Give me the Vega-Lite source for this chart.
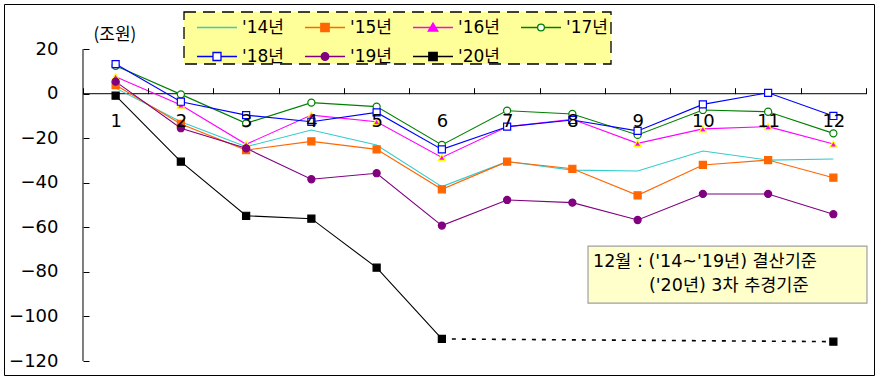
{
  "$schema": "https://vega.github.io/schema/vega-lite/v6.json",
  "width": 870,
  "height": 371,
  "autosize": {"type": "none"},
  "padding": {"left": 4, "top": 4, "right": 4, "bottom": 8},
  "background": "white",
  "config": {
    "view": {"stroke": "black", "strokeWidth": 1},
    "font": "DejaVu Sans, Noto Sans CJK KR",
    "axis": {"domain": false, "grid": false, "tickColor": "black", "labelColor": "black", "labelFont": "DejaVu Sans, Noto Sans CJK KR"}
  },
  "datasets": {
    "series": [
      {"year": "'14년", "month": "1", "value": 2.5, "basis": "실적"},
      {"year": "'14년", "month": "2", "value": -12.6, "basis": "실적"},
      {"year": "'14년", "month": "3", "value": -23.8, "basis": "실적"},
      {"year": "'14년", "month": "4", "value": -16.3, "basis": "실적"},
      {"year": "'14년", "month": "5", "value": -23.0, "basis": "실적"},
      {"year": "'14년", "month": "6", "value": -41.7, "basis": "실적"},
      {"year": "'14년", "month": "7", "value": -30.5, "basis": "실적"},
      {"year": "'14년", "month": "8", "value": -34.3, "basis": "실적"},
      {"year": "'14년", "month": "9", "value": -34.7, "basis": "실적"},
      {"year": "'14년", "month": "10", "value": -25.7, "basis": "실적"},
      {"year": "'14년", "month": "11", "value": -29.8, "basis": "실적"},
      {"year": "'14년", "month": "12", "value": -29.3, "basis": "결산"},
      {"year": "'15년", "month": "1", "value": 3.9, "basis": "실적"},
      {"year": "'15년", "month": "2", "value": -13.6, "basis": "실적"},
      {"year": "'15년", "month": "3", "value": -25.3, "basis": "실적"},
      {"year": "'15년", "month": "4", "value": -21.4, "basis": "실적"},
      {"year": "'15년", "month": "5", "value": -25.0, "basis": "실적"},
      {"year": "'15년", "month": "6", "value": -42.9, "basis": "실적"},
      {"year": "'15년", "month": "7", "value": -30.5, "basis": "실적"},
      {"year": "'15년", "month": "8", "value": -33.7, "basis": "실적"},
      {"year": "'15년", "month": "9", "value": -45.6, "basis": "실적"},
      {"year": "'15년", "month": "10", "value": -32.0, "basis": "실적"},
      {"year": "'15년", "month": "11", "value": -29.8, "basis": "실적"},
      {"year": "'15년", "month": "12", "value": -37.7, "basis": "결산"},
      {"year": "'16년", "month": "1", "value": 7.6, "basis": "실적"},
      {"year": "'16년", "month": "2", "value": -5.1, "basis": "실적"},
      {"year": "'16년", "month": "3", "value": -22.7, "basis": "실적"},
      {"year": "'16년", "month": "4", "value": -9.6, "basis": "실적"},
      {"year": "'16년", "month": "5", "value": -12.6, "basis": "실적"},
      {"year": "'16년", "month": "6", "value": -28.6, "basis": "실적"},
      {"year": "'16년", "month": "7", "value": -14.8, "basis": "실적"},
      {"year": "'16년", "month": "8", "value": -11.5, "basis": "실적"},
      {"year": "'16년", "month": "9", "value": -22.3, "basis": "실적"},
      {"year": "'16년", "month": "10", "value": -15.8, "basis": "실적"},
      {"year": "'16년", "month": "11", "value": -14.8, "basis": "실적"},
      {"year": "'16년", "month": "12", "value": -22.6, "basis": "결산"},
      {"year": "'17년", "month": "1", "value": 12.5, "basis": "실적"},
      {"year": "'17년", "month": "2", "value": -0.3, "basis": "실적"},
      {"year": "'17년", "month": "3", "value": -13.3, "basis": "실적"},
      {"year": "'17년", "month": "4", "value": -4.0, "basis": "실적"},
      {"year": "'17년", "month": "5", "value": -5.8, "basis": "실적"},
      {"year": "'17년", "month": "6", "value": -23.0, "basis": "실적"},
      {"year": "'17년", "month": "7", "value": -7.6, "basis": "실적"},
      {"year": "'17년", "month": "8", "value": -9.1, "basis": "실적"},
      {"year": "'17년", "month": "9", "value": -18.5, "basis": "실적"},
      {"year": "'17년", "month": "10", "value": -7.3, "basis": "실적"},
      {"year": "'17년", "month": "11", "value": -8.1, "basis": "실적"},
      {"year": "'17년", "month": "12", "value": -17.8, "basis": "결산"},
      {"year": "'18년", "month": "1", "value": 13.3, "basis": "실적"},
      {"year": "'18년", "month": "2", "value": -3.6, "basis": "실적"},
      {"year": "'18년", "month": "3", "value": -9.6, "basis": "실적"},
      {"year": "'18년", "month": "4", "value": -12.6, "basis": "실적"},
      {"year": "'18년", "month": "5", "value": -8.4, "basis": "실적"},
      {"year": "'18년", "month": "6", "value": -25.0, "basis": "실적"},
      {"year": "'18년", "month": "7", "value": -14.8, "basis": "실적"},
      {"year": "'18년", "month": "8", "value": -11.8, "basis": "실적"},
      {"year": "'18년", "month": "9", "value": -16.7, "basis": "실적"},
      {"year": "'18년", "month": "10", "value": -4.8, "basis": "실적"},
      {"year": "'18년", "month": "11", "value": 0.4, "basis": "실적"},
      {"year": "'18년", "month": "12", "value": -10.0, "basis": "결산"},
      {"year": "'19년", "month": "1", "value": 5.4, "basis": "실적"},
      {"year": "'19년", "month": "2", "value": -15.5, "basis": "실적"},
      {"year": "'19년", "month": "3", "value": -24.5, "basis": "실적"},
      {"year": "'19년", "month": "4", "value": -38.4, "basis": "실적"},
      {"year": "'19년", "month": "5", "value": -35.7, "basis": "실적"},
      {"year": "'19년", "month": "6", "value": -59.2, "basis": "실적"},
      {"year": "'19년", "month": "7", "value": -47.7, "basis": "실적"},
      {"year": "'19년", "month": "8", "value": -48.9, "basis": "실적"},
      {"year": "'19년", "month": "9", "value": -56.7, "basis": "실적"},
      {"year": "'19년", "month": "10", "value": -45.0, "basis": "실적"},
      {"year": "'19년", "month": "11", "value": -45.0, "basis": "실적"},
      {"year": "'19년", "month": "12", "value": -54.1, "basis": "결산"},
      {"year": "'20년", "month": "1", "value": -0.9, "basis": "실적"},
      {"year": "'20년", "month": "2", "value": -30.5, "basis": "실적"},
      {"year": "'20년", "month": "3", "value": -54.8, "basis": "실적"},
      {"year": "'20년", "month": "4", "value": -56.1, "basis": "실적"},
      {"year": "'20년", "month": "5", "value": -78.1, "basis": "실적"},
      {"year": "'20년", "month": "6", "value": -110.1, "basis": "실적"},
      {"year": "'20년", "month": "12", "value": -111.3, "basis": "3차 추경"}
    ]
  },
  "data": {"name": "series"},
  "layer": [
    {
      "data": {"values": [{"item": "legend box"}]},
      "mark": {"type": "rect", "fill": "#FFFF99", "stroke": "black", "strokeWidth": 1.3, "strokeDash": [12, 7]},
      "encoding": {
        "x": {"datum": "2", "type": "ordinal", "bandPosition": 0.548,
          "scale": {"type": "band", "domain": ["1","2","3","4","5","6","7","8","9","10","11","12"], "paddingInner": 0, "paddingOuter": 0.6667, "align": 0.908, "round": false},
          "axis": {"orient": "bottom", "offset": -281.3, "tickBand": "extent", "tickSize": -6, "labelPadding": 24.3, "labelAngle": 0, "labelFontSize": 18, "title": null}},
        "x2": {"datum": "9", "bandPosition": 0.092},
        "y": {"datum": 36.68, "type": "quantitative",
          "scale": {"domain": [-126.28, 40.27], "nice": false, "zero": false},
          "axis": {"values": [20,0,-20,-40,-60,-80,-100,-120], "offset": -79, "tickSize": -6, "labelPadding": 31, "labelFontSize": 18,
            "title": "(조원)", "titleAngle": 0, "titleX": 10, "titleY": 30.5, "titleAlign": "left", "titleBaseline": "middle",
            "titleFontSize": 17, "titleFontWeight": "normal", "titleColor": "black", "titleFont": "Noto Sans CJK KR"}},
        "y2": {"datum": 13.33}
      }
    },
    {
      "data": {"values": [{"item": "note box"}]},
      "mark": {"type": "rect", "fill": "#FFFFCC", "stroke": "#A0A0A0", "strokeWidth": 1.2},
      "encoding": {
        "x": {"datum": "8", "type": "ordinal", "bandPosition": 0.74},
        "x2": {"datum": "12", "bandPosition": 1.015},
        "y": {"datum": -68.4, "type": "quantitative"},
        "y2": {"datum": -94.0}
      }
    },
    {
      "data": {"values": [{"item": "y axis"}]},
      "mark": {"type": "rule", "color": "black", "strokeWidth": 1},
      "encoding": {
        "x": {"datum": "1", "type": "ordinal", "bandPosition": 0},
        "y": {"datum": 20, "type": "quantitative"},
        "y2": {"datum": -120}
      }
    },
    {
      "data": {"values": [{"item": "x axis"}]},
      "mark": {"type": "rule", "color": "black", "strokeWidth": 1},
      "encoding": {
        "x": {"datum": "1", "type": "ordinal", "bandPosition": 0},
        "x2": {"datum": "12", "bandPosition": 1},
        "y": {"datum": 0, "type": "quantitative"}
      }
    },
    {
      "transform": [{"filter": {"not": {"field": "basis", "equal": "3차 추경"}}}],
      "mark": {"type": "line", "strokeWidth": 1.1},
      "encoding": {
        "x": {"field": "month", "type": "ordinal"},
        "y": {"field": "value", "type": "quantitative"},
        "color": {
          "field": "year", "type": "nominal",
          "scale": {"domain": ["'14년","'15년","'16년","'17년","'18년","'19년","'20년"], "range": ["#33CCCC","#FF6600","#FF00FF","#008000","#0000FF","#800080","#000000"]},
          "legend": {
            "orient": "none", "legendX": 192, "legendY": 2.5, "direction": "horizontal", "columns": 4, "title": null, "padding": 0,
            "labelFontSize": 17, "labelFont": "DejaVu Sans, Noto Sans CJK KR", "labelColor": "black", "labelOffset": 4,
            "columnPadding": 18, "rowPadding": -5, "symbolSize": 1600, "symbolStrokeWidth": 1.3,
            "encode": {
              "symbols": {
                "update": {
                  "shape": {"signal": "['M-1,0H1','M-1,0H1M-0.21,-0.21H0.21V0.21H-0.21Z','M-1,0H1M0,-0.22L0.24,0.18H-0.24Z','M-1,0H-0.17M0.17,0H1M-0.17,0A0.17,0.17,0,1,1,0.17,0A0.17,0.17,0,1,1,-0.17,0Z','M-1,0H-0.2M0.2,0H1M-0.2,-0.2H0.2V0.2H-0.2Z','M-1,0H1M-0.19,0A0.19,0.19,0,1,1,0.19,0A0.19,0.19,0,1,1,-0.19,0Z','M-1,0H1M-0.21,-0.21H0.21V0.21H-0.21Z'][datum.index]"},
                  "fill": {"signal": "['transparent','#FF6600','#FF00FF','#FFFFFF','#FFFFFF','#800080','#000000'][datum.index]"},
                  "stroke": {"signal": "['#33CCCC','#FF6600','#FF00FF','#008000','#0000FF','#800080','#000000'][datum.index]"},
                  "size": {"value": 1600},
                  "strokeWidth": {"value": 1.3}
                }
              }
            }
          }
        }
      }
    },
    {
      "transform": [{"filter": {"and": [{"field": "year", "equal": "'20년"}, {"field": "month", "oneOf": ["6", "12"]}]}}],
      "mark": {"type": "line", "color": "black", "strokeWidth": 1.6, "strokeDash": [4, 6]},
      "encoding": {
        "x": {"field": "month", "type": "ordinal"},
        "y": {"field": "value", "type": "quantitative"}
      }
    },
    {
      "transform": [{"filter": {"not": {"field": "year", "equal": "'14년"}}}],
      "mark": {"type": "point", "opacity": 1, "strokeWidth": 1.2, "size": 50},
      "encoding": {
        "x": {"field": "month", "type": "ordinal"},
        "y": {"field": "value", "type": "quantitative"},
        "shape": {"condition": [
            {"test": {"field": "year", "oneOf": ["'15년", "'18년", "'20년"]}, "value": "square"},
            {"test": {"field": "year", "equal": "'16년"}, "value": "triangle-up"}
          ], "value": "circle"},
        "fill": {"condition": [
            {"test": {"field": "year", "equal": "'15년"}, "value": "#FF6600"},
            {"test": {"field": "year", "equal": "'16년"}, "value": "#FF00FF"},
            {"test": {"field": "year", "equal": "'19년"}, "value": "#800080"},
            {"test": {"field": "year", "equal": "'20년"}, "value": "#000000"}
          ], "value": "#FFFFFF"},
        "stroke": {"condition": [
            {"test": {"field": "year", "equal": "'15년"}, "value": "#FF6600"},
            {"test": {"field": "year", "equal": "'16년"}, "value": "#FFFF00"},
            {"test": {"field": "year", "equal": "'17년"}, "value": "#008000"},
            {"test": {"field": "year", "equal": "'18년"}, "value": "#0000FF"},
            {"test": {"field": "year", "equal": "'19년"}, "value": "#800080"}
          ], "value": "#000000"}
      }
    },
    {
      "data": {"values": [{"note": "12월 : ('14~'19년) 결산기준"}]},
      "mark": {"type": "text", "align": "left", "baseline": "middle", "fontSize": 17.5, "color": "black", "font": "DejaVu Sans, Noto Sans CJK KR"},
      "encoding": {
        "x": {"datum": "8", "type": "ordinal", "bandPosition": 0.816},
        "y": {"datum": -75.6, "type": "quantitative"},
        "text": {"field": "note"}
      }
    },
    {
      "data": {"values": [{"note": "('20년) 3차 추경기준"}]},
      "mark": {"type": "text", "align": "left", "baseline": "middle", "fontSize": 17.5, "color": "black", "font": "DejaVu Sans, Noto Sans CJK KR"},
      "encoding": {
        "x": {"datum": "9", "type": "ordinal", "bandPosition": 0.674},
        "y": {"datum": -86.3, "type": "quantitative"},
        "text": {"field": "note"}
      }
    }
  ]
}
